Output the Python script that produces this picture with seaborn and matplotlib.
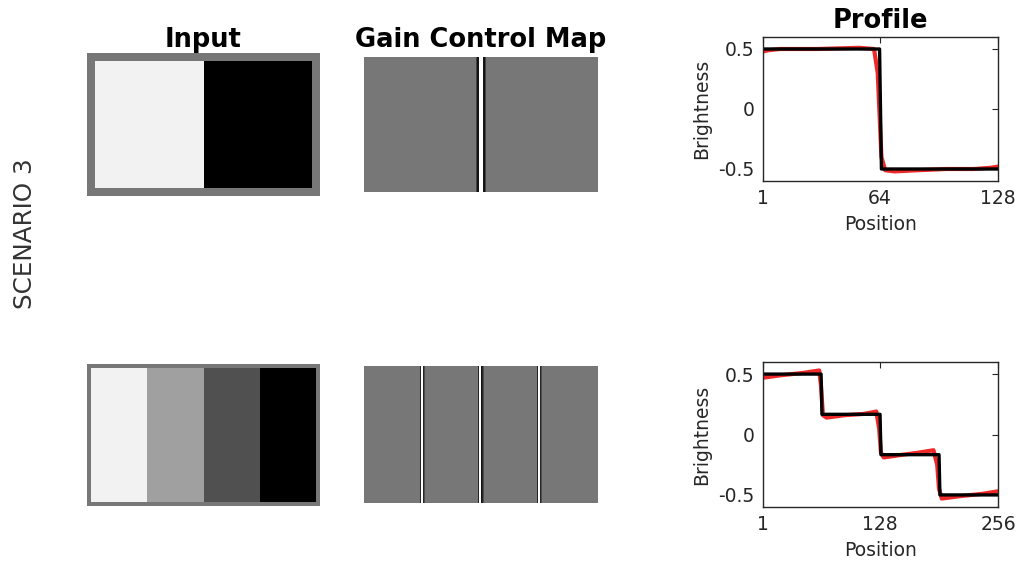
import numpy as np
import pandas as pd
import matplotlib
matplotlib.use("Agg")
import matplotlib.pyplot as plt
import seaborn as sns

# ---- stimulus luminances (0 = black, 1 = white) ----
frame_level = 0.467
input_levels_a = [0.949, 0.0]
input_levels_b = [0.949, 0.627, 0.314, 0.0]

# ---- gain control map: flat grey with a dark/white/dark band at every edge ----
gain_base = 0.467
gain_edge_a = [0.25, 0.08, 1.0, 1.0, 0.08, 0.25]
gain_edge_b = [0.15, 1.0, 1.0, 0.08, 0.15, 0.30]

# ---- brightness profiles ----
profile_levels_a = [0.5, -0.5]
profile_levels_b = [0.5, 0.167, -0.167, -0.5]

# model output (red), read as (position, brightness) pairs
model_pos_a = [1, 4, 10, 30, 53, 61, 63, 65, 67, 72, 85, 100, 115, 124, 128]
model_val_a = [0.48, 0.49, 0.50, 0.50, 0.51, 0.50, 0.30, -0.40, -0.51, -0.52, -0.51, -0.50, -0.50, -0.49, -0.48]
model_pos_b = [1, 20, 45, 62, 64, 66, 70, 90, 110, 124, 127, 129, 132, 150, 170, 186, 190, 192, 195, 215, 240, 256]
model_val_b = [0.47, 0.49, 0.51, 0.53, 0.40, 0.16, 0.14, 0.16, 0.17, 0.19, 0.05, -0.15, -0.19, -0.17, -0.15, -0.13, -0.25, -0.45, -0.53, -0.51, -0.49, -0.47]


def stimulus(levels, width, height, border):
    inner = np.repeat(levels, width // len(levels))[None, :].repeat(height, axis=0)
    img = np.full((height + 2 * border, width + 2 * border), frame_level)
    img[border:border + height, border:border + width] = inner
    return img


def gain_map(n_bars, width, height, edge):
    row = np.full(width, gain_base)
    bar = width // n_bars
    half = len(edge) // 2
    for k in range(1, n_bars):
        start = k * bar - half
        row[start:start + len(edge)] = edge
    return row[None, :].repeat(height, axis=0)


def steps(levels, n):
    pos = np.arange(1, n + 1)
    return pos, np.repeat(levels, n // len(levels))


sns.set_theme(style="white")
plt.rcParams["font.family"] = ["DejaVu Sans"]
fig = plt.figure(figsize=(10.32, 5.61), dpi=100)

W, H = 1032, 561


def frac(x0, y0, x1, y1):
    return [x0 / W, 1 - y1 / H, (x1 - x0) / W, (y1 - y0) / H]


rows = [
    dict(inp=stimulus(input_levels_a, 128, 76, 5),
         gain=gain_map(2, 128, 74, gain_edge_a),
         prof=steps(profile_levels_a, 128),
         mpos=model_pos_a, mval=model_val_a, n=128, ticks=[1, 64, 128],
         inp_box=(87, 53, 320, 196), gain_box=(364, 57, 598, 192),
         prof_box=(763, 37, 998, 181)),
    dict(inp=stimulus(input_levels_b, 256, 151, 5),
         gain=gain_map(4, 256, 150, gain_edge_b),
         prof=steps(profile_levels_b, 256),
         mpos=model_pos_b, mval=model_val_b, n=256, ticks=[1, 128, 256],
         inp_box=(87, 364, 320, 506), gain_box=(364, 366, 598, 503),
         prof_box=(763, 362, 998, 507)),
]

text_color = "#262626"

for i, r in enumerate(rows):
    ax_in = fig.add_axes(frac(*r["inp_box"]))
    sns.heatmap(r["inp"], cmap="gray", vmin=0, vmax=1, cbar=False,
                xticklabels=False, yticklabels=False, ax=ax_in, rasterized=True)
    ax_g = fig.add_axes(frac(*r["gain_box"]))
    sns.heatmap(r["gain"], cmap="gray", vmin=0, vmax=1, cbar=False,
                xticklabels=False, yticklabels=False, ax=ax_g, rasterized=True)

    ax_p = fig.add_axes(frac(*r["prof_box"]))
    sns.lineplot(x=r["mpos"], y=r["mval"], color="#ee1111", lw=3.0, alpha=0.9, ax=ax_p)
    pos, vals = r["prof"]
    sns.lineplot(x=pos, y=vals, color="black", lw=2.4, ax=ax_p)
    ax_p.set_xlim(1, r["n"])
    ax_p.set_ylim(-0.6, 0.6)
    ax_p.set_xticks(r["ticks"])
    ax_p.set_yticks([-0.5, 0, 0.5])
    ax_p.set_yticklabels(["-0.5", "0", "0.5"])
    ax_p.tick_params(direction="in", length=4, width=0.8, top=True, right=True,
                     labelsize=13.5, colors=text_color, pad=6)
    for s in ax_p.spines.values():
        s.set_visible(True)
        s.set_color(text_color)
        s.set_linewidth(1.0)
    ax_p.set_xlabel("Position", fontsize=13.5, color=text_color, labelpad=5)
    ax_p.set_ylabel("Brightness", fontsize=13.5, color=text_color, labelpad=5)

    if i == 0:
        ax_in.set_title("Input", fontsize=18.5, fontweight="bold", color="black", pad=4.5)
        ax_g.set_title("Gain Control Map", fontsize=18.5, fontweight="bold", color="black", pad=7)
        ax_p.set_title("Profile", fontsize=18.5, fontweight="bold", color="black", pad=6.3)

fig.text(25 / W, 1 - 234 / H, "SCENARIO 3", rotation=90, fontsize=17.7,
         color="#333333", ha="center", va="center")

fig.savefig("out.png", dpi=100, facecolor="white")
